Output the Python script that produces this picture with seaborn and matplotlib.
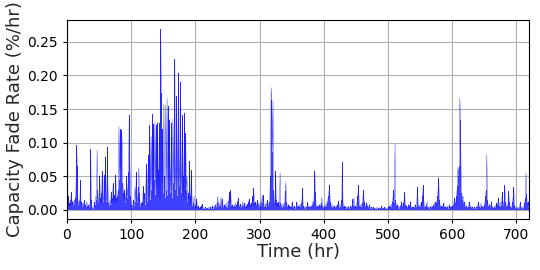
import numpy as np
import pandas as pd
import matplotlib
matplotlib.use("Agg")
import matplotlib.pyplot as plt
import seaborn as sns

# hourly capacity fade rate (%/hr), t = 0..720 hr
rate_0_99 = [
    0.004, 0.012, 0.020, 0.006, 0.010, 0.005, 0.014, 0.026, 0.008, 0.012, 0.006, 0.015, 0.009, 0.018, 0.030, 0.096, 0.066, 0.012, 0.008, 0.014,
    0.010, 0.044, 0.007, 0.012, 0.005, 0.009, 0.006, 0.014, 0.004, 0.008, 0.005, 0.012, 0.006, 0.004, 0.007, 0.005, 0.010, 0.090, 0.015, 0.004,
    0.003, 0.002, 0.006, 0.012, 0.008, 0.020, 0.015, 0.089, 0.030, 0.010, 0.012, 0.051, 0.018, 0.009, 0.025, 0.058, 0.020, 0.012, 0.052, 0.015,
    0.079, 0.020, 0.012, 0.094, 0.030, 0.010, 0.006, 0.014, 0.008, 0.027, 0.012, 0.018, 0.040, 0.010, 0.022, 0.015, 0.052, 0.018, 0.010, 0.020,
    0.030, 0.124, 0.045, 0.120, 0.060, 0.119, 0.100, 0.040, 0.025, 0.015, 0.030, 0.010, 0.022, 0.050, 0.018, 0.032, 0.056, 0.141, 0.070, 0.020,
]
rate_100_199 = [
    0.012, 0.008, 0.003, 0.010, 0.015, 0.006, 0.034, 0.012, 0.056, 0.020, 0.010, 0.034, 0.063, 0.025, 0.008, 0.004, 0.010, 0.006, 0.012, 0.035,
    0.015, 0.025, 0.008, 0.040, 0.069, 0.012, 0.045, 0.082, 0.020, 0.126, 0.015, 0.109, 0.030, 0.142, 0.018, 0.128, 0.045, 0.130, 0.022, 0.127,
    0.035, 0.130, 0.020, 0.060, 0.129, 0.015, 0.269, 0.174, 0.040, 0.120, 0.025, 0.158, 0.050, 0.018, 0.156, 0.030, 0.166, 0.020, 0.154, 0.045,
    0.134, 0.025, 0.060, 0.129, 0.018, 0.135, 0.040, 0.129, 0.224, 0.030, 0.080, 0.169, 0.020, 0.110, 0.203, 0.035, 0.070, 0.190, 0.025, 0.060,
    0.141, 0.020, 0.050, 0.144, 0.015, 0.114, 0.030, 0.049, 0.012, 0.025, 0.010, 0.072, 0.020, 0.008, 0.059, 0.012, 0.006, 0.010, 0.020, 0.004,
]
rate_200_399 = [
    0.008, 0.003, 0.016, 0.005, 0.002, 0.006, 0.003, 0.002, 0.004, 0.002, 0.006, 0.009, 0.003, 0.002, 0.001, 0.002, 0.004, 0.002, 0.001, 0.003,
    0.002, 0.004, 0.001, 0.002, 0.005, 0.002, 0.003, 0.006, 0.002, 0.004, 0.003, 0.008, 0.005, 0.003, 0.012, 0.020, 0.006, 0.010, 0.004, 0.008,
    0.019, 0.005, 0.016, 0.006, 0.003, 0.008, 0.004, 0.006, 0.010, 0.005, 0.003, 0.014, 0.007, 0.026, 0.010, 0.029, 0.006, 0.004, 0.008, 0.005,
    0.003, 0.006, 0.010, 0.004, 0.008, 0.005, 0.012, 0.017, 0.006, 0.004, 0.009, 0.005, 0.003, 0.008, 0.012, 0.004, 0.006, 0.010, 0.005, 0.003,
    0.006, 0.009, 0.004, 0.012, 0.016, 0.005, 0.008, 0.010, 0.006, 0.020, 0.014, 0.032, 0.010, 0.006, 0.012, 0.008, 0.004, 0.014, 0.006, 0.010,
    0.005, 0.008, 0.012, 0.006, 0.022, 0.010, 0.022, 0.008, 0.004, 0.006, 0.010, 0.005, 0.014, 0.008, 0.006, 0.012, 0.020, 0.050, 0.182, 0.163,
    0.086, 0.163, 0.030, 0.010, 0.008, 0.058, 0.015, 0.006, 0.010, 0.004, 0.012, 0.008, 0.055, 0.010, 0.005, 0.008, 0.003, 0.006, 0.010, 0.004,
    0.028, 0.041, 0.012, 0.006, 0.004, 0.008, 0.003, 0.006, 0.004, 0.002, 0.005, 0.012, 0.004, 0.003, 0.006, 0.004, 0.002, 0.005, 0.012, 0.004,
    0.003, 0.006, 0.004, 0.008, 0.005, 0.010, 0.014, 0.032, 0.006, 0.004, 0.003, 0.005, 0.002, 0.004, 0.006, 0.011, 0.004, 0.003, 0.005, 0.004,
    0.006, 0.004, 0.008, 0.012, 0.010, 0.020, 0.058, 0.026, 0.008, 0.004, 0.006, 0.003, 0.005, 0.008, 0.004, 0.006, 0.010, 0.018, 0.006, 0.004,
]
rate_400_599 = [
    0.003, 0.005, 0.008, 0.004, 0.006, 0.012, 0.010, 0.020, 0.026, 0.037, 0.012, 0.006, 0.004, 0.008, 0.003, 0.005, 0.004, 0.006, 0.003, 0.005,
    0.004, 0.008, 0.005, 0.013, 0.006, 0.003, 0.005, 0.008, 0.014, 0.071, 0.012, 0.004, 0.006, 0.003, 0.005, 0.002, 0.004, 0.003, 0.006, 0.004,
    0.002, 0.004, 0.006, 0.003, 0.005, 0.016, 0.008, 0.018, 0.004, 0.006, 0.003, 0.005, 0.012, 0.020, 0.037, 0.014, 0.006, 0.004, 0.008, 0.005,
    0.010, 0.018, 0.029, 0.012, 0.006, 0.004, 0.008, 0.010, 0.006, 0.004, 0.003, 0.008, 0.005, 0.002, 0.004, 0.003, 0.002, 0.004, 0.002, 0.003,
    0.002, 0.001, 0.002, 0.004, 0.002, 0.003, 0.001, 0.002, 0.003, 0.002, 0.006, 0.002, 0.001, 0.003, 0.002, 0.004, 0.002, 0.003, 0.001, 0.002,
    0.004, 0.003, 0.006, 0.002, 0.004, 0.008, 0.005, 0.012, 0.020, 0.030, 0.010, 0.098, 0.015, 0.006, 0.004, 0.008, 0.003, 0.005, 0.002, 0.004,
    0.006, 0.012, 0.008, 0.004, 0.010, 0.014, 0.026, 0.008, 0.004, 0.006, 0.003, 0.005, 0.008, 0.004, 0.006, 0.012, 0.005, 0.003, 0.004, 0.002,
    0.004, 0.003, 0.006, 0.008, 0.005, 0.012, 0.034, 0.010, 0.006, 0.004, 0.008, 0.005, 0.012, 0.006, 0.020, 0.037, 0.012, 0.005, 0.004, 0.006,
    0.008, 0.012, 0.004, 0.003, 0.005, 0.002, 0.004, 0.006, 0.003, 0.005, 0.004, 0.008, 0.006, 0.010, 0.012, 0.006, 0.010, 0.020, 0.030, 0.048,
    0.015, 0.008, 0.004, 0.006, 0.003, 0.005, 0.008, 0.010, 0.004, 0.002, 0.004, 0.003, 0.006, 0.004, 0.002, 0.005, 0.008, 0.004, 0.003, 0.005,
]
rate_600_720 = [
    0.006, 0.004, 0.008, 0.012, 0.018, 0.010, 0.008, 0.020, 0.035, 0.063, 0.050, 0.065, 0.166, 0.133, 0.054, 0.025, 0.015, 0.020, 0.010, 0.012,
    0.008, 0.005, 0.006, 0.004, 0.003, 0.005, 0.008, 0.012, 0.006, 0.004, 0.003, 0.005, 0.004, 0.002, 0.003, 0.004, 0.002, 0.003, 0.005, 0.004,
    0.008, 0.012, 0.006, 0.004, 0.003, 0.010, 0.006, 0.004, 0.003, 0.005, 0.008, 0.012, 0.020, 0.030, 0.082, 0.015, 0.006, 0.004, 0.008, 0.005,
    0.003, 0.012, 0.006, 0.004, 0.003, 0.002, 0.004, 0.006, 0.003, 0.010, 0.005, 0.008, 0.018, 0.010, 0.006, 0.004, 0.012, 0.008, 0.026, 0.010,
    0.006, 0.015, 0.037, 0.012, 0.008, 0.004, 0.006, 0.010, 0.028, 0.012, 0.005, 0.004, 0.003, 0.006, 0.012, 0.020, 0.034, 0.008, 0.004, 0.003,
    0.002, 0.004, 0.003, 0.002, 0.004, 0.003, 0.012, 0.005, 0.003, 0.004, 0.002, 0.003, 0.006, 0.010, 0.018, 0.055, 0.023, 0.010, 0.008, 0.012,
    0.006,
]

rate = rate_0_99 + rate_100_199 + rate_200_399 + rate_400_599 + rate_600_720
hours = np.arange(len(rate))
df = pd.DataFrame({"Time (hr)": hours, "Capacity Fade Rate (%/hr)": rate})

sns.set_style("whitegrid", {"grid.color": "#b0b0b0", "axes.edgecolor": "black",
                            "xtick.bottom": True, "ytick.left": True})
plt.rcParams["font.family"] = ["DejaVu Sans"]

fig = plt.figure(figsize=(5.4, 2.7), dpi=100)
ax = fig.add_axes([0.124, 0.189, 0.856, 0.737])
# each hourly value drawn as a thin spike from zero, plus the trace itself
sns.histplot(data=df, x="Time (hr)", weights="Capacity Fade Rate (%/hr)",
             discrete=True, color="blue", alpha=0.75, linewidth=0, ax=ax)
sns.lineplot(data=df, x="Time (hr)", y="Capacity Fade Rate (%/hr)",
             color="blue", lw=0.3, alpha=0.8, ax=ax)

ax.set_xlim(0, 720)
ax.set_ylim(-0.0135, 0.2825)
ax.set_xticks([0, 100, 200, 300, 400, 500, 600, 700])
ax.set_yticks([0.0, 0.05, 0.10, 0.15, 0.20, 0.25])
ax.set_yticklabels(["0.00", "0.05", "0.10", "0.15", "0.20", "0.25"])
ax.tick_params(labelsize=10, length=3, width=0.8, colors="black")
ax.set_xlabel("Time (hr)", fontsize=13, labelpad=1)
ax.set_ylabel("Capacity Fade Rate (%/hr)", fontsize=13, labelpad=2)
for s in ax.spines.values():
    s.set_linewidth(0.8)
ax.grid(True, lw=0.8)

fig.savefig("out.png", dpi=100)
